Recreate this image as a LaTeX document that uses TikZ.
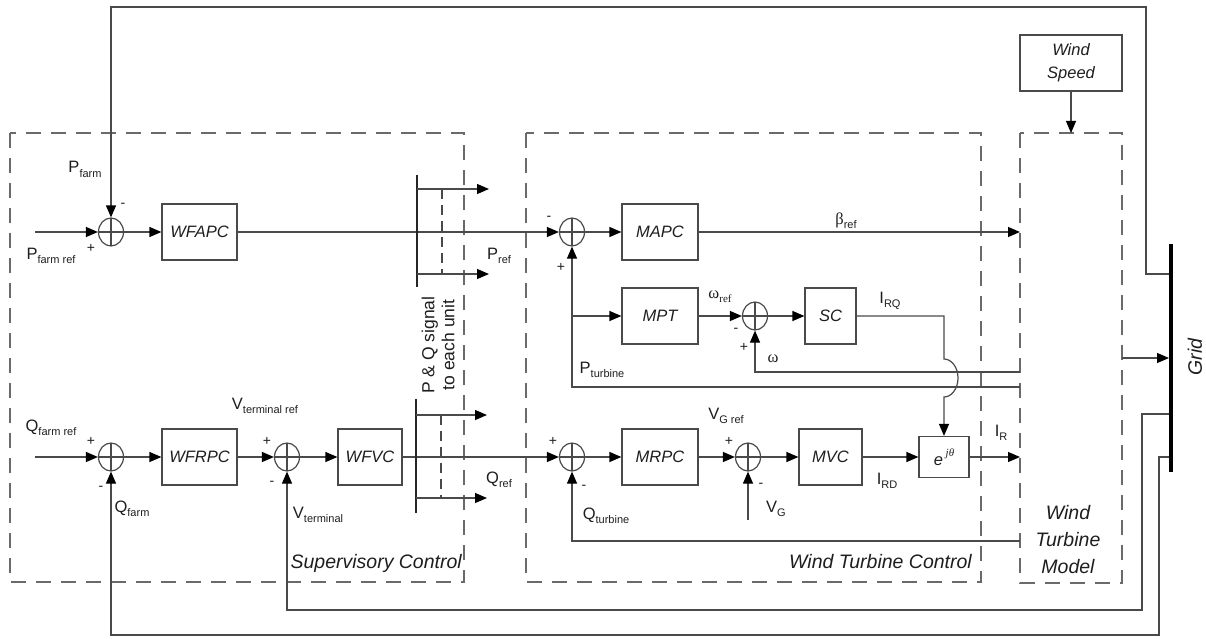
\documentclass[tikz,border=0pt]{standalone}
\usepackage{fontspec}
\setmainfont{Liberation Sans}
\newfontfamily\grk{Liberation Serif}
\usetikzlibrary{arrows.meta,shapes.geometric}
\definecolor{lc}{HTML}{4A4A4A}
\definecolor{dc}{HTML}{6A6A6A}
\definecolor{tc}{HTML}{1E1E1E}
\newcommand\sbs[1]{\raisebox{-0.3em}{\fontsize{11}{12}\selectfont #1}}
\tikzset{
 ln/.style={draw=lc, line width=1.2pt},
 arr/.style={-{Triangle[length=12pt,width=10pt,color=black]}},
 blk/.style={draw=lc, line width=1.2pt, minimum width=75pt, minimum height=56pt, inner sep=0pt,
   font=\fontsize{16.5}{23}\selectfont\itshape, text=tc, align=center},
 sumn/.style={ellipse, draw=lc, line width=1.2pt, minimum width=25pt, minimum height=28pt, inner sep=0pt,
   path picture={\draw[lc, line width=1.1pt] (path picture bounding box.north) -- (path picture bounding box.south)
     (path picture bounding box.west) -- (path picture bounding box.east);}},
 dbox/.style={draw=dc, line width=1.4pt, dash pattern=on 15pt off 10pt},
 sdash/.style={draw=lc, line width=1.1pt, dash pattern=on 10pt off 6pt},
 bus/.style={draw=black!85, line width=1.8pt},
 lab/.style={font=\fontsize{16.5}{18}\selectfont, text=tc, inner sep=0pt, anchor=base},
 sgn/.style={font=\fontsize{14}{15}\selectfont, text=tc, inner sep=0pt},
 big/.style={font=\fontsize{19.5}{27}\selectfont\itshape, text=tc, inner sep=0pt, align=center},
}
\begin{document}
\begin{tikzpicture}[x=1pt,y=-1pt]
\useasboundingbox (0,0) rectangle (1206,639);

% dashed regions
\draw[dbox] (10,133) rectangle (464,582);
\draw[dbox] (526,133) rectangle (981,582);
\draw[dbox] (1020,133) rectangle (1122,583);

% ---------- P row ----------
\coordinate (pin) at (35,232);
\node[sumn] (s1) at (111,232) {};
\node[blk] (wfapc) at (199.5,232) {WFAPC};
\node[sumn] (s2) at (572,232) {};
\node[blk, minimum width=76pt] (mapc) at (660,232) {MAPC};
\coordinate (beta) at (1020,232);
\draw[ln,arr] (pin) -- (s1);
\draw[ln,arr] (s1) -- (wfapc);
\draw[ln,arr] (wfapc) -- (s2);
\draw[ln,arr] (s2) -- (mapc);
\draw[ln,arr] (mapc) -- (beta);

% P distribution bus
\coordinate (pbt) at (417,175); \coordinate (pbb) at (417,287);
\draw[bus] (pbt) -- (pbb);
\coordinate (pa1) at (417,189); \coordinate (pa1e) at (489,189);
\coordinate (pa2) at (417,274); \coordinate (pa2e) at (489,274);
\draw[ln,arr] (pa1) -- (pa1e);
\draw[ln,arr] (pa2) -- (pa2e);
\coordinate (pd1) at (442,189); \coordinate (pd2) at (442,274);
\draw[sdash] (pd1) -- (pd2);

% ---------- MPT row ----------
\coordinate (j1) at (572,316);
\node[blk, minimum width=76pt] (mpt) at (660,316) {MPT};
\node[sumn] (s3) at (755,316) {};
\node[blk, minimum width=51pt] (sc) at (830.5,316) {SC};
\draw[ln,arr] (j1) -- (mpt);
\draw[ln,arr] (mpt) -- (s3);
\draw[ln,arr] (s3) -- (sc);
\coordinate (w1) at (1020,372);
\draw[ln,arr] (w1) -| (s3);
\coordinate (pt1) at (1020,387);
\draw[ln,arr] (pt1) -| (s2);

% ---------- Q row ----------
\coordinate (qin) at (35,457);
\node[sumn] (s4) at (111,457) {};
\node[blk] (wfrpc) at (199.5,457) {WFRPC};
\node[sumn] (s5) at (287,457) {};
\node[blk, minimum width=64pt] (wfvc) at (370,457) {WFVC};
\node[sumn] (s6) at (572,457) {};
\node[blk, minimum width=76pt] (mrpc) at (660,457) {MRPC};
\node[sumn] (s7) at (748,457) {};
\node[blk, minimum width=63pt] (mvc) at (830.5,457) {MVC};
\node[blk, minimum width=50pt, minimum height=41pt] (ejt) at (944,457) {e\,\raisebox{0.55em}{\fontsize{11}{12}\selectfont\grk\itshape jθ}};
\coordinate (ir) at (1020,457);
\draw[ln,arr] (qin) -- (s4);
\draw[ln,arr] (s4) -- (wfrpc);
\draw[ln,arr] (wfrpc) -- (s5);
\draw[ln,arr] (s5) -- (wfvc);
\draw[ln,arr] (wfvc) -- (s6);
\draw[ln,arr] (s6) -- (mrpc);
\draw[ln,arr] (mrpc) -- (s7);
\draw[ln,arr] (s7) -- (mvc);
\draw[ln,arr] (mvc) -- (ejt);
\draw[ln,arr] (ejt) -- (ir);
\coordinate (vg) at (748,520);
\draw[ln,arr] (vg) -- (s7);
\coordinate (qt) at (1020,541);
\draw[ln,arr] (qt) -| (s6);

% I_RQ path with hop
\draw[ln,arr] (sc.east) -- (944,316) -- (944,359)
   arc[start angle=-90, end angle=90, x radius=14, y radius=19] -- (ejt.north);

% Q distribution bus
\coordinate (qbt) at (416,399); \coordinate (qbb) at (416,513);
\draw[bus] (qbt) -- (qbb);
\coordinate (qa1) at (416,415); \coordinate (qa1e) at (487,415);
\coordinate (qa2) at (416,498); \coordinate (qa2e) at (487,498);
\draw[ln,arr] (qa1) -- (qa1e);
\draw[ln,arr] (qa2) -- (qa2e);
\coordinate (qd1) at (441,415); \coordinate (qd2) at (441,498);
\draw[sdash] (qd1) -- (qd2);

% ---------- Grid and wind ----------
\coordinate (gt) at (1171,244); \coordinate (gb) at (1171,472);
\draw[line width=4pt, black] (gt) -- (gb);
\coordinate (g1) at (1169,274);
\coordinate (g2) at (1169,414);
\coordinate (g3) at (1169,457);
\coordinate (g4) at (1169,358);
\coordinate (wtmo) at (1122,358);
\draw[ln,arr] (g1) -- (1146,274) -- (1146,7) -| (s1);
\draw[ln,arr] (g2) -- (1142,414) -- (1142,610) -| (s5);
\draw[ln,arr] (g3) -- (1159,457) -- (1159,635) -| (s4);
\draw[ln,arr] (wtmo) -- (g4);
\node[blk, minimum width=102pt] (ws) at (1071,63) {Wind\\Speed};
\coordinate (wtmt) at (1071,133);
\draw[ln,arr] (ws) -- (wtmt);

% ---------- labels ----------
\node[lab] (lpf) at (85,173) {P\sbs{farm}};
\node[lab] (lpfr) at (51,259) {P\sbs{farm ref}};
\node[lab] (lpr) at (499,259) {P\sbs{ref}};
\node[lab] (lbr) at (846,224) {{\grk β}\sbs{ref}};
\node[lab] (lwr) at (720,298) {\grk ω\sbs{\grk ref}};
\node[lab] (lirq) at (890,303) {I\sbs{RQ}};
\node[lab, anchor=center] (lw) at (773,359) {\grk ω};
\node[lab] (lpt) at (602,373) {P\sbs{turbine}};
\node[lab] (lqfr) at (51,431) {Q\sbs{farm ref}};
\node[lab] (lqf) at (132,512) {Q\sbs{farm}};
\node[lab] (lvtr) at (265,409) {V\sbs{terminal ref}};
\node[lab] (lvt) at (318,518) {V\sbs{terminal}};
\node[lab] (lqr) at (499,483) {Q\sbs{ref}};
\node[lab] (lqt) at (606,519) {Q\sbs{turbine}};
\node[lab] (lvgr) at (726,419) {V\sbs{G ref}};
\node[lab] (lvg) at (776,512) {V\sbs{G}};
\node[lab] (lird) at (887,484) {I\sbs{RD}};
\node[lab] (lir) at (1001,436) {I\sbs{R}};

% signs
\node[sgn] at (123,205) {-};
\node[sgn] at (91,248) {+};
\node[sgn] at (549,218) {-};
\node[sgn] at (561,267) {+};
\node[sgn] at (736,330) {-};
\node[sgn] at (744,347) {+};
\node[sgn] at (91,441) {+};
\node[sgn] at (101,488) {-};
\node[sgn] at (267,441) {+};
\node[sgn] at (272,483) {-};
\node[sgn] at (553,441) {+};
\node[sgn] at (584,487) {-};
\node[sgn] at (729,441) {+};
\node[sgn] at (761,485) {-};

% region titles
\node[big, anchor=base east] (tsc) at (462,568) {Supervisory Control};
\node[big, anchor=base east] (twtc) at (972,568) {Wind Turbine Control};
\node[big] (twtm) at (1068,540) {Wind\\Turbine\\Model};
\node[big, rotate=90] (tgrid) at (1195,357) {Grid};
\node[font=\fontsize{17.5}{20}\selectfont, text=tc, align=center, rotate=90, inner sep=0pt] (tpq) at (438,345) {P \& Q signal\\to each unit};
\end{tikzpicture}
\end{document}
